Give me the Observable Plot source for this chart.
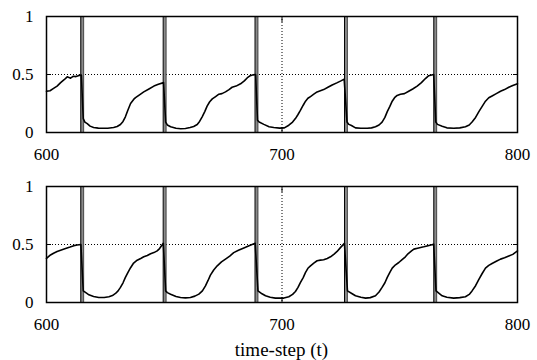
<!DOCTYPE html>
<html>
<head>
<meta charset="utf-8">
<script src="https://cdn.jsdelivr.net/npm/d3@7"></script>
<script src="https://cdn.jsdelivr.net/npm/@observablehq/plot@0.6"></script>
<style>
  html, body { margin: 0; padding: 0; background: white; font-family: "Liberation Serif", serif; }
  #wrap { width: 537px; }
  #wrap svg { display: block; }
  svg text { font-family: "Liberation Serif", "Times New Roman", Times, serif !important; font-variant: normal !important; }
  #xtitle { font-family: "Liberation Serif", serif; font-size: 19px; line-height: 20px; height: 20px;
            padding-left: 46px; padding-right: 20px; text-align: center; color: black; }
</style>
</head>
<body>
<div id="wrap"></div>
<script>
const xTicks = [600, 700, 800];
const yTicks = [0, 0.5, 1];
const xTitle = "time-step (t)";
// event markers (full-height vertical bars)
const events = [615.1, 650.1, 689.1, 727.1, 765.0];

const tTop = [600,601.5,603,604.5,606,607.5,608.8,609.5,610.2,611,611.5,612.5,613.5,614.8,615.6,616.3,617.3,618.5,620,622,624,626,628.5,630,631.4,632.5,633.5,634.5,635.7,637,637.8,639.5,641.3,643.5,645.6,647.5,649.7,650.6,651.3,652.7,655,657,659,661,662.5,664,665,666.1,667.2,668.2,669.3,670.4,671.8,673.2,674.5,676,677.5,678.8,680.5,682.4,684,685.2,686.5,687.8,688.8,689.6,690.3,692.3,694.5,696.5,699,701,702.9,704.5,705.7,706.8,707.8,709,710,711,712.1,713.5,714.9,716.3,717.7,719.5,721.3,723.5,725,726.4,727.6,728.4,729.5,731.2,733.5,736.2,738,739.7,741.2,742.5,743.7,744.7,745.8,746.8,747.8,748.9,750.3,752,753.8,755.5,757.4,759.2,760.9,762.3,764.4,765.3,766,768,770,772.9,775.5,777.9,779.5,780.7,782.2,783.6,785,786.4,787.8,789.2,791,792.8,794.5,796.3,798,800];
const vTop = [0.355,0.36,0.38,0.40,0.43,0.455,0.48,0.475,0.468,0.48,0.485,0.482,0.49,0.495,0.12,0.09,0.077,0.055,0.043,0.038,0.036,0.037,0.043,0.052,0.069,0.095,0.135,0.19,0.25,0.285,0.30,0.325,0.35,0.375,0.40,0.415,0.43,0.09,0.065,0.05,0.036,0.032,0.035,0.043,0.052,0.069,0.095,0.135,0.18,0.227,0.265,0.29,0.31,0.33,0.335,0.35,0.37,0.39,0.40,0.42,0.445,0.47,0.49,0.497,0.5,0.106,0.09,0.07,0.05,0.043,0.038,0.04,0.063,0.09,0.12,0.155,0.19,0.235,0.27,0.295,0.31,0.33,0.35,0.36,0.37,0.39,0.41,0.43,0.445,0.46,0.09,0.07,0.06,0.04,0.036,0.036,0.04,0.05,0.065,0.09,0.13,0.18,0.225,0.27,0.30,0.32,0.33,0.335,0.356,0.375,0.40,0.43,0.465,0.49,0.5,0.09,0.07,0.054,0.04,0.036,0.04,0.05,0.065,0.09,0.13,0.18,0.225,0.27,0.30,0.315,0.335,0.356,0.37,0.39,0.405,0.42];

const tBot = [600,601.7,603,604.5,606.3,608.1,610,611.6,613,614.6,615.6,617,618,620,622.2,624.5,626.5,628,629.3,630.4,631.4,632.5,633.5,634.6,635.7,637,638.5,640,641.3,642.8,644.2,645.6,647,648,649.6,650.6,651.3,652.7,655,656.9,659,661.1,663,664.7,666.2,667.5,668.6,669.6,671,672.5,674.3,676,677.8,679.5,681.5,683.8,686,688.6,689.8,691.5,693,695,697.2,700.8,702.9,704.5,705.7,706.8,707.8,709,710,711,712.1,713.5,714.9,716.3,717.7,719.2,720.6,722,723.4,724.9,726.5,727.8,729.8,731.2,733.5,735.5,737.5,739.7,741.2,742.5,743.7,744.7,745.8,746.8,748.2,749.6,751,752.4,753.5,755,756,758,760.2,762,764.4,765.4,768,770,772.9,775.5,777.9,779.5,780.7,782.2,783.6,785,786.4,787.8,789.2,791,792.8,794.5,796.3,798,799,800];
const vBot = [0.38,0.41,0.425,0.44,0.453,0.465,0.478,0.49,0.495,0.50,0.10,0.08,0.066,0.052,0.043,0.043,0.05,0.06,0.078,0.1,0.13,0.17,0.216,0.26,0.30,0.34,0.365,0.38,0.394,0.405,0.42,0.43,0.445,0.465,0.51,0.1,0.085,0.072,0.052,0.043,0.04,0.043,0.055,0.072,0.1,0.144,0.19,0.236,0.28,0.316,0.35,0.374,0.40,0.43,0.45,0.47,0.49,0.51,0.1,0.075,0.058,0.045,0.038,0.038,0.05,0.07,0.095,0.13,0.172,0.215,0.26,0.295,0.316,0.34,0.36,0.365,0.368,0.38,0.394,0.415,0.44,0.475,0.51,0.10,0.075,0.058,0.045,0.038,0.042,0.058,0.09,0.13,0.17,0.216,0.26,0.296,0.325,0.345,0.37,0.394,0.42,0.445,0.46,0.47,0.48,0.49,0.503,0.10,0.058,0.045,0.038,0.042,0.05,0.07,0.10,0.145,0.2,0.25,0.296,0.32,0.336,0.355,0.374,0.385,0.40,0.415,0.43,0.445];

const font = "Liberation Serif, Times New Roman, Times, serif";

function panel(ts, vs) {
  const data = ts.map((t, i) => ({t, v: vs[i]}));
  const tickOpts = {tickFormat: () => "", strokeWidth: 1, tickSize: -5};
  const svg = Plot.plot({
    width: 537, height: 170,
    marginLeft: 46, marginRight: 20, marginTop: 16, marginBottom: 38,
    style: {fontFamily: font, fontSize: "17px", color: "black", background: "white", overflow: "visible"},
    x: {domain: [600, 800], label: null},
    y: {domain: [0, 1], label: null},
    marks: [
      Plot.ruleY([0.5], {stroke: "black", strokeWidth: 1, strokeDasharray: "1,2"}),
      Plot.ruleX([700], {stroke: "black", strokeWidth: 1, strokeDasharray: "1,2"}),
      Plot.axisX({anchor: "bottom", ticks: xTicks, tickFormat: d => String(d), tickSize: 0, tickPadding: 15, fontSize: 17, fontFamily: font}),
      Plot.axisY({anchor: "left", ticks: yTicks, tickFormat: d => String(d), tickSize: 0, tickPadding: 13, fontSize: 17, fontFamily: font}),
      Plot.axisY({anchor: "left", ticks: yTicks, ...tickOpts}),
      Plot.axisY({anchor: "right", ticks: yTicks, ...tickOpts}),
      Plot.axisX({anchor: "bottom", ticks: xTicks, ...tickOpts}),
      Plot.axisX({anchor: "top", ticks: xTicks, ...tickOpts}),
      Plot.ruleX(events, {x: d => d, y1: 0, y2: 1, stroke: "#8a8a8a", strokeWidth: 3, dx: 0.3}),
      Plot.ruleX(events, {x: d => d, y1: 0, y2: 1, stroke: "black", strokeWidth: 1, dx: -1.3}),
      Plot.ruleX(events, {x: d => d, y1: 0, y2: 1, stroke: "#333", strokeWidth: 0.8, dx: 1.6}),
      Plot.line(data, {x: "t", y: "v", stroke: "black", strokeWidth: 1.6}),
      Plot.frame({stroke: "black", strokeWidth: 1.5})
    ]
  });
  svg.querySelectorAll("text").forEach(el => el.setAttribute("font-family", font));
  return svg;
}

const wrap = document.getElementById("wrap");
wrap.appendChild(panel(tTop, vTop));
wrap.appendChild(panel(tBot, vBot));
const title = document.createElement("div");
title.id = "xtitle";
title.textContent = xTitle;
wrap.appendChild(title);
</script>
</body>
</html>
